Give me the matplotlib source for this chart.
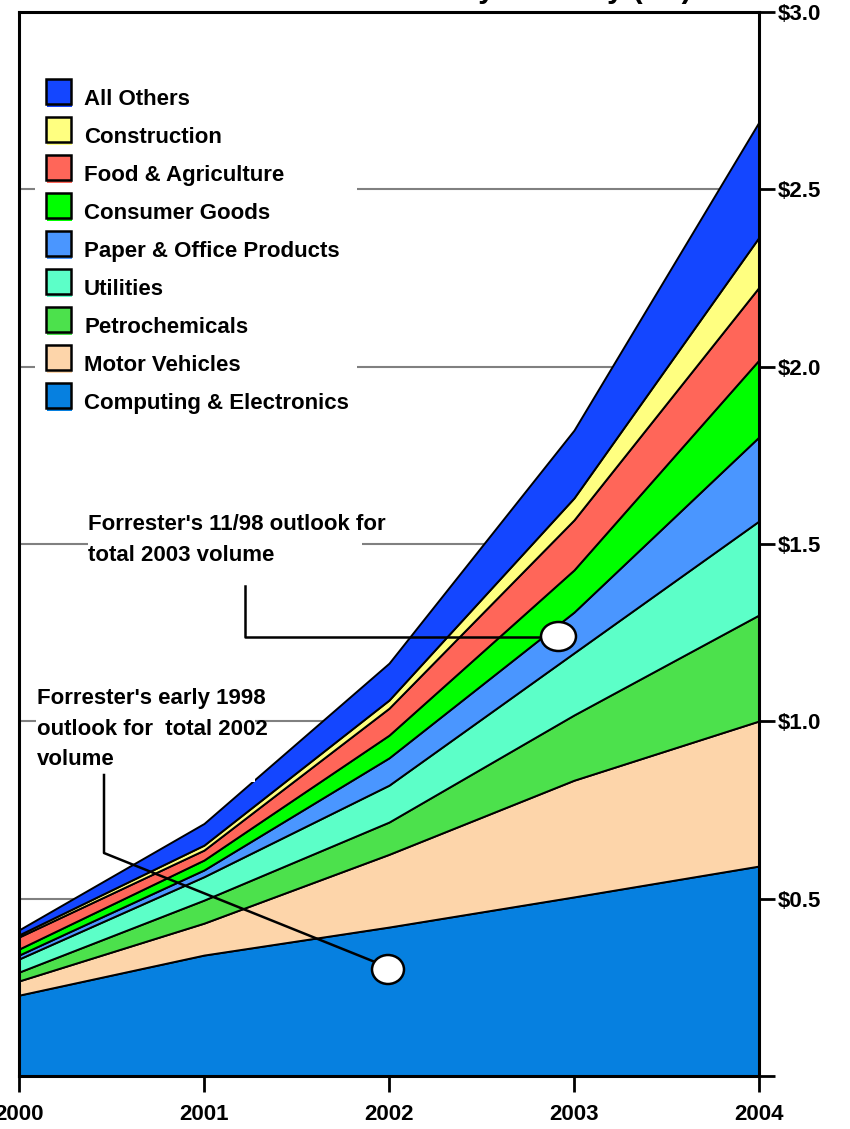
import matplotlib
matplotlib.use("Agg")
import matplotlib.pyplot as plt
from matplotlib.patches import Rectangle, Ellipse

W, H = 850, 1129

years = [2000, 2001, 2002, 2003, 2004]
categories = ["Computing & Electronics", "Motor Vehicles", "Petrochemicals", "Utilities",
              "Paper & Office Products", "Consumer Goods", "Food & Agriculture",
              "Construction", "All Others"]
computing = [0.228, 0.341, 0.420, 0.505, 0.592]
motor = [0.040, 0.090, 0.205, 0.329, 0.409]
petro = [0.025, 0.065, 0.091, 0.184, 0.299]
utilities = [0.037, 0.066, 0.104, 0.175, 0.265]
paper = [0.011, 0.019, 0.077, 0.115, 0.237]
consumer = [0.017, 0.028, 0.064, 0.119, 0.217]
food = [0.034, 0.028, 0.076, 0.141, 0.205]
construction = [0.006, 0.014, 0.023, 0.062, 0.141]
others = [0.014, 0.061, 0.104, 0.191, 0.325]
colors = ["#0680e0", "#fdd5aa", "#4ce14c", "#5cffc8", "#4a96ff",
          "#00ff00", "#ff6659", "#ffff80", "#1446ff"]

yticks = [0, 0.5, 1.0, 1.5, 2.0, 2.5, 3.0]
ytick_labels = ["", "$0.5", "$1.0", "$1.5", "$2.0", "$2.5", "$3.0"]

plt.rcParams["font.family"] = ["Liberation Sans", "DejaVu Sans"]
plt.rcParams["font.weight"] = "bold"
FS = 16


def fig_xy(x, y):
    # pixel position (from top-left) -> figure fraction
    return x / W, 1 - y / H


fig = plt.figure(figsize=(W / 100, H / 100), dpi=100)
l, b = fig_xy(19, 1076)
r, t = fig_xy(759, 12)
ax = fig.add_axes([l, b, r - l, t - b])

series = [computing, motor, petro, utilities, paper, consumer, food, construction, others]
ax.stackplot(years, *series, colors=colors, edgecolor="black", linewidth=1.4, zorder=2)

for v in yticks[1:-1]:
    ax.axhline(v, color="#808080", lw=1.5, zorder=0)

ax.set_xlim(2000, 2004)
ax.set_ylim(0, 3.0)
ax.set_xticks(years)
ax.set_xticklabels([str(y) for y in years], fontsize=FS)
ax.yaxis.tick_right()
ax.set_yticks(yticks)
ax.set_yticklabels(ytick_labels, fontsize=FS)
ax.tick_params(axis="y", direction="out", length=11.5, width=2, pad=2)
ax.tick_params(axis="x", direction="out", length=11.5, width=2, pad=9)
for s in ax.spines.values():
    s.set_linewidth(2.2)
ax.set_facecolor("white")


def px_to_data(x, y):
    return 2000 + (x - 19) * 4 / 740, (1076 - y) * 3.0 / 1064


def white_box(x0, y0, x1, y1, z):
    dx0, dy0 = px_to_data(x0, y1)
    dx1, dy1 = px_to_data(x1, y0)
    ax.add_patch(Rectangle((dx0, dy0), dx1 - dx0, dy1 - dy0, facecolor="white",
                           edgecolor="none", zorder=z))


# white backgrounds behind legend and notes
white_box(35, 70, 357, 420, 1)
white_box(88, 505, 362, 580, 1)
white_box(36, 680, 255, 782, 3)

# notes
tx, ty = px_to_data(88, 514)
ax.text(tx, ty, "Forrester's 11/98 outlook for\ntotal 2003 volume", fontsize=FS,
        va="top", ha="left", linespacing=1.6, zorder=5)
tx, ty = px_to_data(37, 688)
ax.text(tx, ty, "Forrester's early 1998\noutlook for  total 2002\nvolume", fontsize=FS,
        va="top", ha="left", linespacing=1.6, zorder=5)

# leader lines and ellipse markers
for pts, (cx, cy, ew, eh) in [
    ([(245, 586), (245, 637), (541, 637)], (558.5, 636.5, 35, 29)),
    ([(104, 775), (104, 853), (375, 962)], (388, 969.5, 32, 29)),
]:
    d = [px_to_data(*p) for p in pts]
    ax.plot([p[0] for p in d], [p[1] for p in d], color="black", lw=1.8, zorder=6)
    ex, ey = px_to_data(cx, cy)
    ax.add_patch(Ellipse((ex, ey), ew * 4 / 740, eh * 3.0 / 1064, facecolor="white",
                         edgecolor="black", lw=1.8, zorder=7))

# legend, top entry first
for i, (name, col) in enumerate(zip(categories[::-1], colors[::-1])):
    top = 79 + 38 * i
    sx, sy = fig_xy(47, top + 28)
    fig.add_artist(Rectangle((sx, sy), 25 / W, 25 / H, facecolor=col, edgecolor="none",
                             transform=fig.transFigure, zorder=8))
    px, py = fig_xy(46, top + 25)
    fig.add_artist(Rectangle((px, py), 25 / W, 25 / H, facecolor=col, edgecolor="black",
                             lw=1.8, transform=fig.transFigure, zorder=9))
    lx, ly = fig_xy(84, top + 26)
    fig.text(lx, ly, name, fontsize=FS, va="baseline", ha="left", zorder=9)

# title, mostly above the top edge
tx, ty = fig_xy(692, -3)
fig.text(tx, ty, "Business-to-Business eCommerce by Industry ($B)", fontsize=22,
         ha="right", va="baseline")

fig.savefig("out.png", dpi=100)
